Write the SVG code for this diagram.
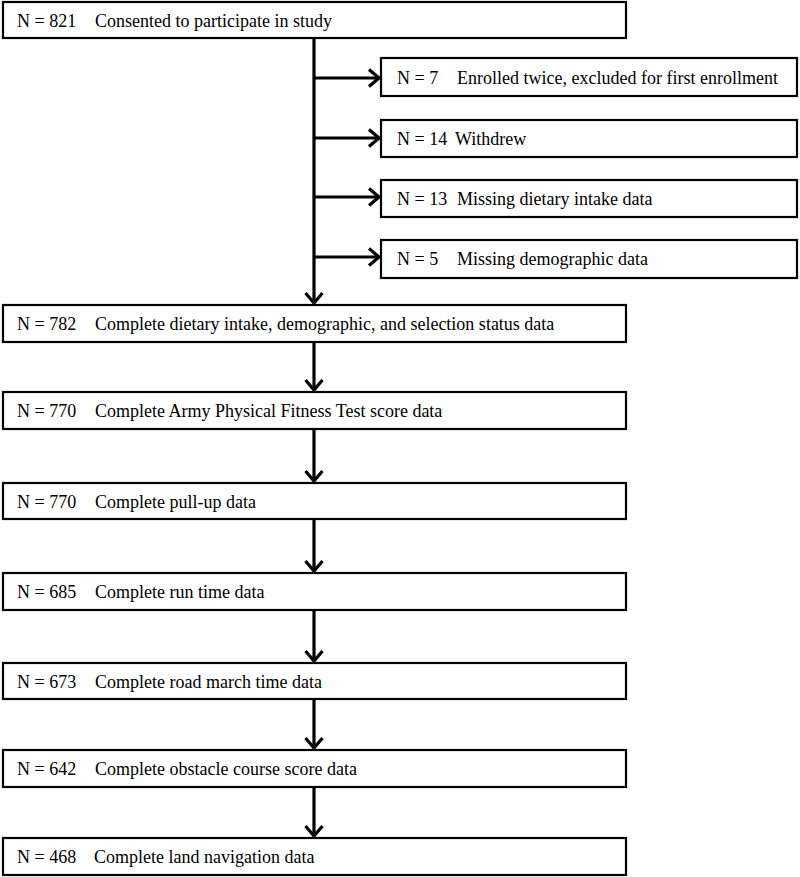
<svg xmlns="http://www.w3.org/2000/svg" width="800" height="877" viewBox="0 0 800 877">
<style>
.box{fill:#fff;stroke:#000;stroke-width:2.2}
.t{font-family:"Liberation Serif","Times New Roman",serif;font-size:18px;fill:#000}
.c{stroke:#000;stroke-width:3.2;fill:none}
</style>
<defs>
<marker id="ah" markerUnits="userSpaceOnUse" viewBox="-12 -10 14 20" refX="0" refY="0" markerWidth="14" markerHeight="20" orient="auto" overflow="visible">
<polyline points="-10,-8.5 0,0 -10,8.5" fill="none" stroke="#000" stroke-width="3.2" stroke-linejoin="miter" stroke-linecap="butt"/>
</marker>
</defs>
<g id="connectors">
<line class="c" x1="314" y1="38" x2="314" y2="303" marker-end="url(#ah)"/>
<line class="c" x1="314" y1="78" x2="379" y2="78" marker-end="url(#ah)"/>
<line class="c" x1="314" y1="138" x2="379" y2="138" marker-end="url(#ah)"/>
<line class="c" x1="314" y1="197" x2="379" y2="197" marker-end="url(#ah)"/>
<line class="c" x1="314" y1="257" x2="379" y2="257" marker-end="url(#ah)"/>
<line class="c" x1="314" y1="342" x2="314" y2="390" marker-end="url(#ah)"/>
<line class="c" x1="314" y1="429" x2="314" y2="481" marker-end="url(#ah)"/>
<line class="c" x1="314" y1="519" x2="314" y2="571" marker-end="url(#ah)"/>
<line class="c" x1="314" y1="610" x2="314" y2="661" marker-end="url(#ah)"/>
<line class="c" x1="314" y1="699" x2="314" y2="748" marker-end="url(#ah)"/>
<line class="c" x1="314" y1="787" x2="314" y2="836" marker-end="url(#ah)"/>
</g>
<g id="n821"><rect class="box" x="3" y="2" width="623" height="36"/><text class="t" x="17" y="27">N = 821</text><text class="t" x="95" y="27">Consented to participate in study</text></g>
<g id="n7"><rect class="box" x="381" y="58" width="416" height="38"/><text class="t" x="397" y="84">N = 7</text><text class="t" x="457" y="84">Enrolled twice, excluded for first enrollment</text></g>
<g id="n14"><rect class="box" x="381" y="120" width="416" height="37"/><text class="t" x="397" y="145">N = 14</text><text class="t" x="455" y="145">Withdrew</text></g>
<g id="n13"><rect class="box" x="381" y="180" width="416" height="37"/><text class="t" x="397" y="205">N = 13</text><text class="t" x="457" y="205">Missing dietary intake data</text></g>
<g id="n5"><rect class="box" x="381" y="240" width="416" height="38"/><text class="t" x="397" y="265">N = 5</text><text class="t" x="457" y="265">Missing demographic data</text></g>
<g id="n782"><rect class="box" x="3" y="305" width="623" height="37"/><text class="t" x="17" y="330">N = 782</text><text class="t" x="95" y="330">Complete dietary intake, demographic, and selection status data</text></g>
<g id="n770a"><rect class="box" x="3" y="392" width="623" height="37"/><text class="t" x="17" y="417">N = 770</text><text class="t" x="95" y="417">Complete Army Physical Fitness Test score data</text></g>
<g id="n770b"><rect class="box" x="3" y="483" width="623" height="36"/><text class="t" x="17" y="508">N = 770</text><text class="t" x="95" y="508">Complete pull-up data</text></g>
<g id="n685"><rect class="box" x="3" y="573" width="623" height="37"/><text class="t" x="17" y="598">N = 685</text><text class="t" x="95" y="598">Complete run time data</text></g>
<g id="n673"><rect class="box" x="3" y="663" width="623" height="36"/><text class="t" x="17" y="688">N = 673</text><text class="t" x="95" y="688">Complete road march time data</text></g>
<g id="n642"><rect class="box" x="3" y="750" width="623" height="37"/><text class="t" x="17" y="775">N = 642</text><text class="t" x="95" y="775">Complete obstacle course score data</text></g>
<g id="n468"><rect class="box" x="3" y="838" width="623" height="37"/><text class="t" x="17" y="863">N = 468</text><text class="t" x="94" y="863">Complete land navigation data</text></g>
</svg>
